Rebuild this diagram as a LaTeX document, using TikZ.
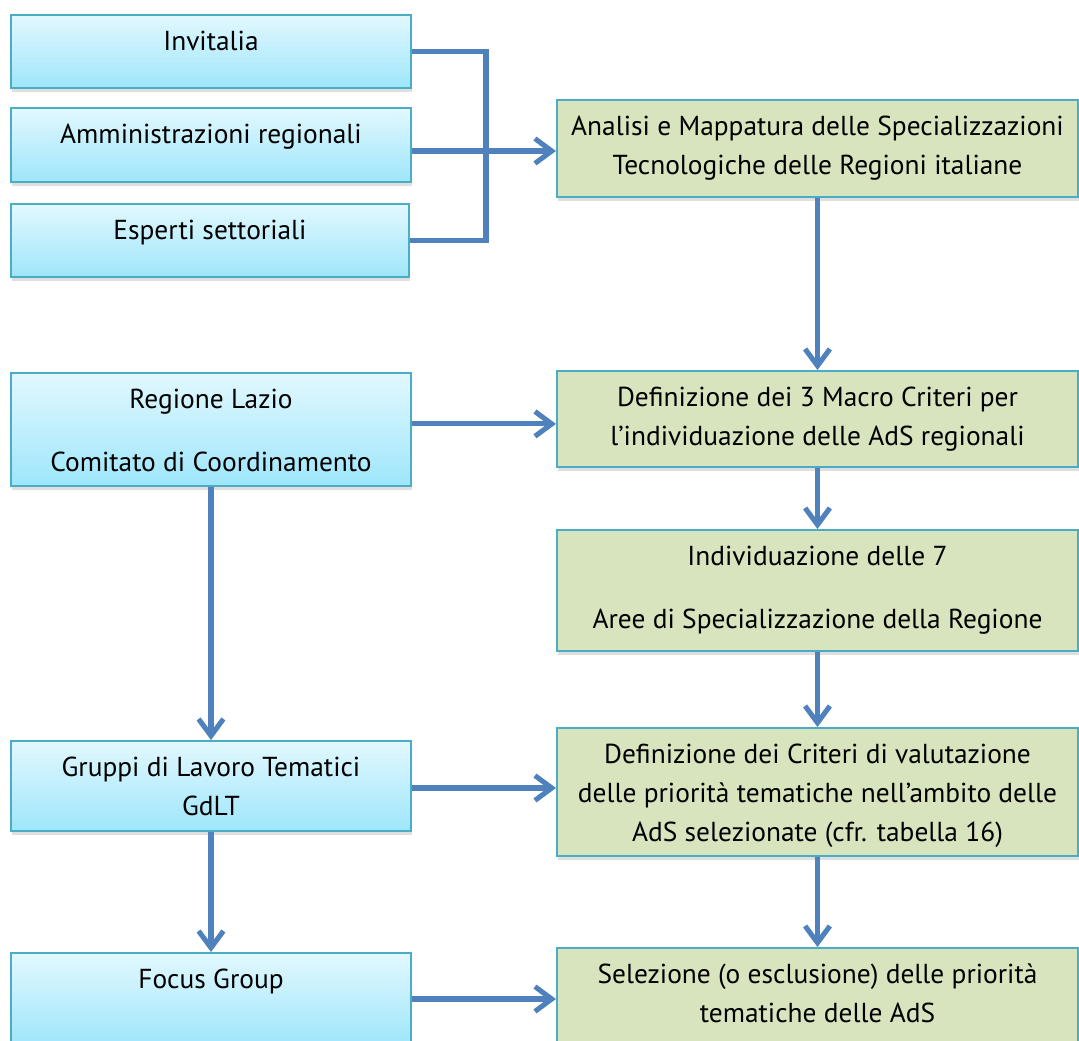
\documentclass[tikz,border=0pt]{standalone}
\usepackage{fontspec}
\setmainfont{PT Sans}
\usepackage{tikz}
\usetikzlibrary{arrows.meta,shadows}

\definecolor{boxline}{HTML}{4BACC6}
\definecolor{actortop}{HTML}{E2F8FE}
\definecolor{actorbot}{HTML}{9EE6FB}
\definecolor{phasefill}{HTML}{D7E4BD}
\definecolor{flowblue}{HTML}{4F81BD}

% text block at the top of a box: height, width, lines
\newcommand{\btxt}[3]{\begin{minipage}[c][#1][t]{#2}\centering\vspace*{0.4cm}#3\end{minipage}}

\tikzset{
  actor/.style={draw=boxline, line width=1.4pt, top color=actortop, bottom color=actorbot,
    inner sep=0pt, drop shadow={shadow xshift=0.6pt, shadow yshift=-2.5pt, opacity=0.25}},
  phase/.style={draw=boxline, line width=1.4pt, fill=phasefill,
    inner sep=0pt, drop shadow={shadow xshift=0.6pt, shadow yshift=-2.5pt, opacity=0.25}},
  flow/.style={draw=flowblue, line width=3.6pt, -{Straight Barb[length=0.42cm, width=0.62cm]}},
  link/.style={draw=flowblue, line width=3.6pt}
}

\begin{document}
\begin{tikzpicture}[font=\fontsize{19.5}{27.7}\selectfont]
    \clip (0,0) rectangle (26.975,-26.025);

    % Actors (left column)
    \node[actor] (inv) at (5.275,-1.2875) {\btxt{1.825cm}{10cm}{Invitalia}};
    \node[actor] (amm) at (5.275,-3.625) {\btxt{1.85cm}{10cm}{Amministrazioni regionali}};
    \node[actor] (esp) at (5.25,-6.0125) {\btxt{1.825cm}{9.95cm}{Esperti settoriali}};
    \node[actor] (reg) at (5.275,-10.7375) {\btxt{2.825cm}{10cm}{Regione Lazio\\[17pt]Comitato di Coordinamento}};
    \node[actor] (grp) at (5.275,-19.65) {\btxt{2.25cm}{10cm}{Gruppi di Lavoro Tematici\\GdLT}};
    \node[actor] (foc) at (5.275,-24.975) {\btxt{2.3cm}{10cm}{Focus Group}};

    % Phases (right column)
    \node[phase] (ana) at (20.4375,-3.7125) {\btxt{2.425cm}{13.025cm}{Analisi e Mappatura delle Specializzazioni\\Tecnologiche delle Regioni italiane}};
    \node[phase] (mac) at (20.4375,-10.475) {\btxt{2.4cm}{13.025cm}{Definizione dei 3 Macro Criteri per\\l'individuazione delle AdS regionali}};
    \node[phase] (ind) at (20.4375,-14.7625) {\btxt{3.025cm}{13.025cm}{Individuazione delle 7\\[17pt]Aree di Specializzazione della Regione}};
    \node[phase] (crit) at (20.4375,-19.8) {\btxt{3.2cm}{13.025cm}{Definizione dei Criteri di valutazione\\delle priorità tematiche nell'ambito delle\\AdS selezionate (cfr. tabella 16)}};
    \node[phase] (sel) at (20.4375,-24.9125) {\btxt{2.425cm}{13.025cm}{Selezione (o esclusione) delle priorità\\tematiche delle AdS}};

    % Connectors
    \coordinate (jn) at (12.15,-3.625);
    \draw[link] (inv.east) -| (jn) |- (esp.east);
    \draw[flow] ([yshift=-0.15cm]amm.east) -- ([yshift=-0.15cm]amm.east -| ana.west);
    \draw[flow] (ana.south) -- (mac.north);
    \draw[flow] (mac.south) -- (ind.north);
    \draw[flow] (ind.south) -- (crit.north);
    \draw[flow] (crit.south) -- (sel.north);
    \draw[flow] ([yshift=0.14cm]reg.east) -- ([yshift=0.14cm]reg.east -| mac.west);
    \draw[flow] (reg.south) -- (grp.north);
    \draw[flow] (grp.south) -- (foc.north);
    \draw[flow] ([yshift=-0.05cm]grp.east) -- ([yshift=-0.05cm]grp.east -| crit.west);
    \draw[flow] (foc.east) -- (foc.east -| sel.west);
  \end{tikzpicture}
\end{document}
